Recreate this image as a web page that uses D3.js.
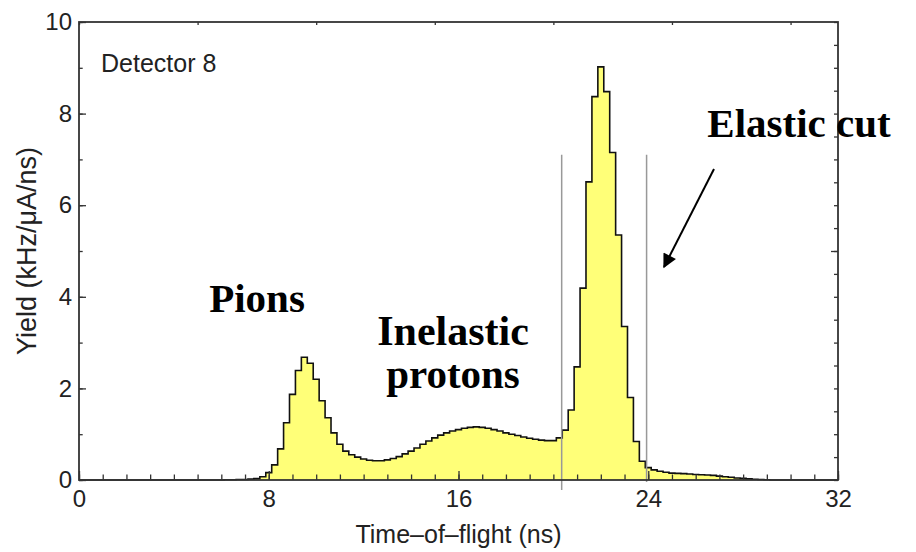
<!DOCTYPE html>
<html><head><meta charset="utf-8">
<script src="https://cdn.jsdelivr.net/npm/d3@7"></script>
<style>body{margin:0;background:#fff}</style>
</head><body><svg id="c" width="916" height="552"></svg>
<script>
// ---- data ----
const binWidth = 0.25;
const binCenters = [6.0,6.25,6.5,6.75,7.0,7.25,7.5,7.75,8.0,8.25,8.5,8.75,9.0,9.25,9.5,9.75,
 10.0,10.25,10.5,10.75,11.0,11.25,11.5,11.75,12.0,12.25,12.5,12.75,13.0,13.25,13.5,13.75,
 14.0,14.25,14.5,14.75,15.0,15.25,15.5,15.75,16.0,16.25,16.5,16.75,17.0,17.25,17.5,17.75,
 18.0,18.25,18.5,18.75,19.0,19.25,19.5,19.75,20.0,20.25,20.5,20.75,21.0,21.25,21.5,21.75,
 22.0,22.25,22.5,22.75,23.0,23.25,23.5,23.75,24.0,24.25,24.5,24.75,25.0,25.25,25.5,25.75,
 26.0,26.25,26.5,26.75,27.0,27.25,27.5,27.75,28.0,28.25,28.5,28.75,29.0,29.25];
const yieldValues = [0.0,0.005,0.005,0.01,0.01,0.02,0.03,0.07,0.16,0.33,0.68,1.25,1.87,2.39,2.68,2.55,
 2.20,1.73,1.36,1.03,0.78,0.63,0.55,0.50,0.46,0.43,0.42,0.42,0.44,0.47,0.51,0.57,
 0.63,0.70,0.78,0.85,0.92,0.98,1.03,1.07,1.10,1.13,1.15,1.16,1.15,1.13,1.10,1.07,
 1.03,1.00,0.97,0.94,0.91,0.89,0.87,0.86,0.86,0.92,1.09,1.53,2.47,4.19,6.51,8.37,
 9.02,8.48,7.15,5.35,3.35,1.80,0.84,0.41,0.27,0.22,0.19,0.17,0.15,0.145,0.14,0.13,
 0.12,0.115,0.11,0.10,0.085,0.07,0.06,0.045,0.035,0.025,0.015,0.01,0.005,0.0];
const xTickLabels = [0, 8, 16, 24, 32];
const yTickLabels = [0, 2, 4, 6, 8, 10];
const cutPositions = [20.35, 23.93];
const xTitle = "Time\u2013of\u2013flight (ns)";
const yTitle = "Yield (kHz/\u03bcA/ns)";
const panelLabel = "Detector 8";
const annoTexts = ["Pions", "Inelastic", "protons", "Elastic cut"];

// ---- chart ----
const svg = d3.select("#c");
const x = d3.scaleLinear().domain([0, 32]).range([79, 838]);
const y = d3.scaleLinear().domain([0, 10]).range([480, 22]);

const pts = [[0, 0], [binCenters[0] - binWidth / 2, 0]];
binCenters.forEach((c, i) => {
  pts.push([c - binWidth / 2, yieldValues[i]]);
  pts.push([c + binWidth / 2, yieldValues[i]]);
});
pts.push([binCenters[binCenters.length - 1] + binWidth / 2, 0]);
pts.push([32, 0]);

svg.append("path").datum(pts)
  .attr("d", d3.area().x(d => x(d[0])).y0(y(0)).y1(d => y(d[1])))
  .attr("fill", "#ffff78");
svg.append("path").datum(pts)
  .attr("d", d3.line().x(d => x(d[0])).y(d => y(d[1])))
  .attr("fill", "none").attr("stroke", "#111").attr("stroke-width", 1.6)
  .attr("stroke-linejoin", "miter");

svg.selectAll("line.cut").data(cutPositions).enter().append("line")
  .attr("x1", d => x(d)).attr("x2", d => x(d))
  .attr("y1", y(7.1)).attr("y2", (d, i) => i === 0 ? 490 : 482)
  .attr("stroke", "#999").attr("stroke-width", 1.5);

const font = "Liberation Sans, Arial, sans-serif";
function styleAxis(g) {
  g.select(".domain").remove();
  g.selectAll("line").attr("stroke", "#333").attr("stroke-width", 1.3);
  g.selectAll("text").attr("font-family", font).attr("font-size", 24).attr("fill", "#222");
}
svg.append("g").attr("transform", `translate(0,${y(0)})`)
  .call(d3.axisBottom(x).tickValues(d3.range(0, 33, 1)).tickSize(-5.5).tickFormat(""))
  .call(styleAxis);
svg.append("g").attr("transform", `translate(0,${y(0)})`)
  .call(d3.axisBottom(x).tickValues(xTickLabels).tickSizeInner(-9).tickSizeOuter(0).tickPadding(10))
  .call(styleAxis);
svg.append("g").attr("transform", `translate(0,${y(10)})`)
  .call(d3.axisTop(x).tickValues(d3.range(0, 33, 5)).tickSize(-3).tickFormat(""))
  .call(styleAxis);
svg.append("g").attr("transform", `translate(${x(0)},0)`)
  .call(d3.axisLeft(y).tickValues(d3.range(0, 11, 1)).tickSize(-3.7).tickFormat(""))
  .call(styleAxis);
svg.append("g").attr("transform", `translate(${x(0)},0)`)
  .call(d3.axisLeft(y).tickValues(yTickLabels).tickSizeInner(-7).tickSizeOuter(0).tickPadding(7))
  .call(styleAxis);
svg.append("g").attr("transform", `translate(${x(32)},0)`)
  .call(d3.axisRight(y).tickValues(d3.range(0, 10.01, 0.5)).tickSize(-4).tickFormat(""))
  .call(styleAxis);
svg.append("g").attr("transform", `translate(${x(32)},0)`)
  .call(d3.axisRight(y).tickValues([5]).tickSize(-7).tickFormat(""))
  .call(styleAxis);

svg.append("rect").attr("x", x(0)).attr("y", y(10))
  .attr("width", x(32) - x(0)).attr("height", y(0) - y(10))
  .attr("fill", "none").attr("stroke", "#333").attr("stroke-width", 1.8);

svg.append("text").attr("x", (x(0) + x(32)) / 2).attr("y", 543)
  .attr("text-anchor", "middle").attr("font-family", font).attr("font-size", 25)
  .attr("fill", "#222").text(xTitle);
svg.append("text").attr("transform", `translate(36,${(y(0) + y(10)) / 2}) rotate(-90)`)
  .attr("text-anchor", "middle").attr("font-family", font).attr("font-size", 27)
  .attr("fill", "#222").text(yTitle);
svg.append("text").attr("x", 101).attr("y", 72)
  .attr("font-family", font).attr("font-size", 25).attr("fill", "#222").text(panelLabel);

const serif = "Liberation Serif, Times New Roman, serif";
const annoPos = [[257, 312], [453, 345], [453, 388], [799, 137]];
annoTexts.forEach((t, i) => {
  svg.append("text").attr("x", annoPos[i][0]).attr("y", annoPos[i][1])
    .attr("text-anchor", "middle").attr("font-family", serif).attr("font-weight", "bold")
    .attr("font-size", i === 1 ? 42 : 41).attr("fill", "#000").text(t);
});

svg.append("defs").append("marker").attr("id", "ah")
  .attr("viewBox", "0 0 10 10").attr("refX", 9).attr("refY", 5)
  .attr("markerWidth", 18).attr("markerHeight", 14).attr("markerUnits", "userSpaceOnUse")
  .attr("orient", "auto")
  .append("path").attr("d", "M0,0 L10,5 L0,10 Z").attr("fill", "#000");
svg.append("line").attr("x1", 714).attr("y1", 169).attr("x2", 664).attr("y2", 267)
  .attr("stroke", "#000").attr("stroke-width", 2).attr("marker-end", "url(#ah)");
</script></body></html>
